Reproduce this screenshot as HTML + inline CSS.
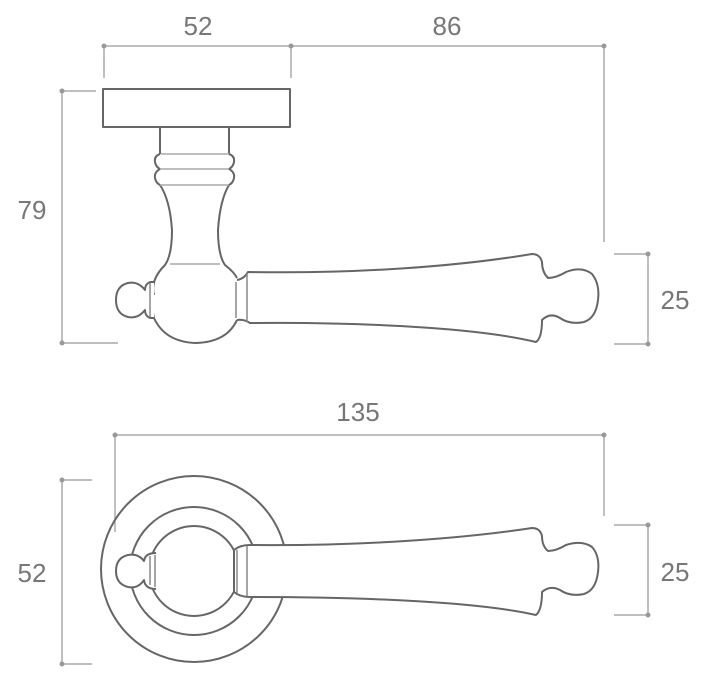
<!DOCTYPE html>
<html><head><style>
html,body{margin:0;padding:0;background:#fff;}
svg{display:block}
text{font-family:"Liberation Sans",sans-serif;font-size:26px;fill:#777;}
</style></head><body>
<svg width="718" height="682" viewBox="0 0 718 682" xmlns="http://www.w3.org/2000/svg">
<g stroke="#aaa" stroke-width="1.5" fill="none">
 <line x1="104" y1="46" x2="604" y2="46"/>
 <line x1="104" y1="46" x2="104" y2="78"/>
 <line x1="291" y1="46" x2="291" y2="78"/>
 <line x1="604" y1="46" x2="604" y2="242"/>
 <line x1="62" y1="91" x2="62" y2="343"/>
 <line x1="62" y1="91" x2="96" y2="91"/>
 <line x1="62" y1="343" x2="118" y2="343"/>
 <line x1="648" y1="254" x2="648" y2="344"/>
 <line x1="614" y1="254" x2="648" y2="254"/>
 <line x1="614" y1="344" x2="648" y2="344"/>
 <line x1="115" y1="435" x2="604" y2="435"/>
 <line x1="115" y1="435" x2="115" y2="532"/>
 <line x1="604" y1="435" x2="604" y2="516"/>
 <line x1="62" y1="480" x2="62" y2="664"/>
 <line x1="62" y1="480" x2="92" y2="480"/>
 <line x1="62" y1="664" x2="92" y2="664"/>
 <line x1="648" y1="525" x2="648" y2="615"/>
 <line x1="614" y1="525" x2="648" y2="525"/>
 <line x1="614" y1="615" x2="648" y2="615"/>
</g>
<g fill="#999">
 <circle cx="104" cy="46" r="2.5"/><circle cx="291" cy="46" r="2.5"/><circle cx="604" cy="46" r="2.5"/>
 <circle cx="62" cy="91" r="2.5"/><circle cx="62" cy="343" r="2.5"/>
 <circle cx="648" cy="254" r="2.5"/><circle cx="648" cy="344" r="2.5"/>
 <circle cx="115" cy="435" r="2.5"/><circle cx="604" cy="435" r="2.5"/>
 <circle cx="62" cy="480" r="2.5"/><circle cx="62" cy="664" r="2.5"/>
 <circle cx="648" cy="525" r="2.5"/><circle cx="648" cy="615" r="2.5"/>
</g>
<text x="198" y="35" text-anchor="middle">52</text>
<text x="447" y="35" text-anchor="middle">86</text>
<text x="32" y="219" text-anchor="middle">79</text>
<text x="675" y="309" text-anchor="middle">25</text>
<text x="358" y="421" text-anchor="middle">135</text>
<text x="32" y="582" text-anchor="middle">52</text>
<text x="675" y="581" text-anchor="middle">25</text>

<g stroke="#666" stroke-width="2" fill="none" stroke-linejoin="round">
 <!-- top view -->
 <rect x="103" y="89" width="187" height="38"/>
 <path d="M160 127 V154 M229 127 V154"/>
 <path d="M160 154 Q154 156 155 162 Q156 167 160 169 Q154 172 155 178 Q156 183 160 185 Q170 200 172 230 Q172 255 165 265 Q150 280 154 295"/>
 <path d="M229 154 Q235 156 234 162 Q233 167 229 169 Q235 172 234 178 Q233 183 229 185 Q220 200 218 230 Q218 255 225 265 Q234 272 237 278"/>
 <path d="M161 154 H229 M160 169 H229 M160 185 H229 M170 264 H220" stroke="#aaa" stroke-width="1.5"/>
 <path d="M154 282 Q150 300 154 318 Q165 342 196 343 Q227 342 237 320"/>
 <path fill="#fff" d="M154 282 L150 282 Q145 284 145 290 Q138 281 128 283 Q116 286 116 300 Q116 314 128 317 Q138 319 145 310 Q145 316 150 318 L154 318"/>
 <path d="M150 283 V317" stroke="#888" stroke-width="1.5"/>
 <path fill="#fff" d="M237 280 Q244 279 248 272 C360 274 460 266 532 254 Q540 254 542 262 Q542 272 548 278 Q556 278 566 272 Q582 266 592 274 Q600 284 598 300 Q596 318 584 322 Q570 325 560 318 Q550 312 542 320 Q542 338 536 342 C470 326 340 322 250 323 Q244 319 237 320"/>
 <path d="M236 282 V318 M247 273 V322" stroke="#888" stroke-width="1.5"/>

 <!-- bottom view -->
 <circle cx="194" cy="569" r="93"/>
 <circle cx="194" cy="571" r="64"/>
 <circle cx="194" cy="571" r="45"/>
 <path fill="#fff" d="M156 553 Q145 553 144 561 Q138 553 128 555 Q116 558 116 571 Q116 584 128 587 Q138 589 144 580 Q145 589 156 589 Z" stroke="none"/>
 <path d="M156 553 Q145 553 144 561 Q138 553 128 555 Q116 558 116 571 Q116 584 128 587 Q138 589 144 580 Q145 589 156 589"/>
 <path d="M150 556 V585 M155 555 V587" stroke="#888" stroke-width="1.5"/>
 <path fill="#fff" d="M234 550 Q240 545 250 545 C360 546 460 539 532 528 Q540 528 542 536 Q542 546 548 551 Q556 551 566 545 Q582 540 592 547 Q600 556 598 572 Q596 590 584 594 Q570 597 560 590 Q550 585 542 592 Q542 610 536 615 C470 600 340 597 250 597 Q240 597 234 592 Z"/>
 <path d="M237 550 V593 M247 546 V596" stroke="#888" stroke-width="1.5"/>
</g>
</svg>
</body></html>
